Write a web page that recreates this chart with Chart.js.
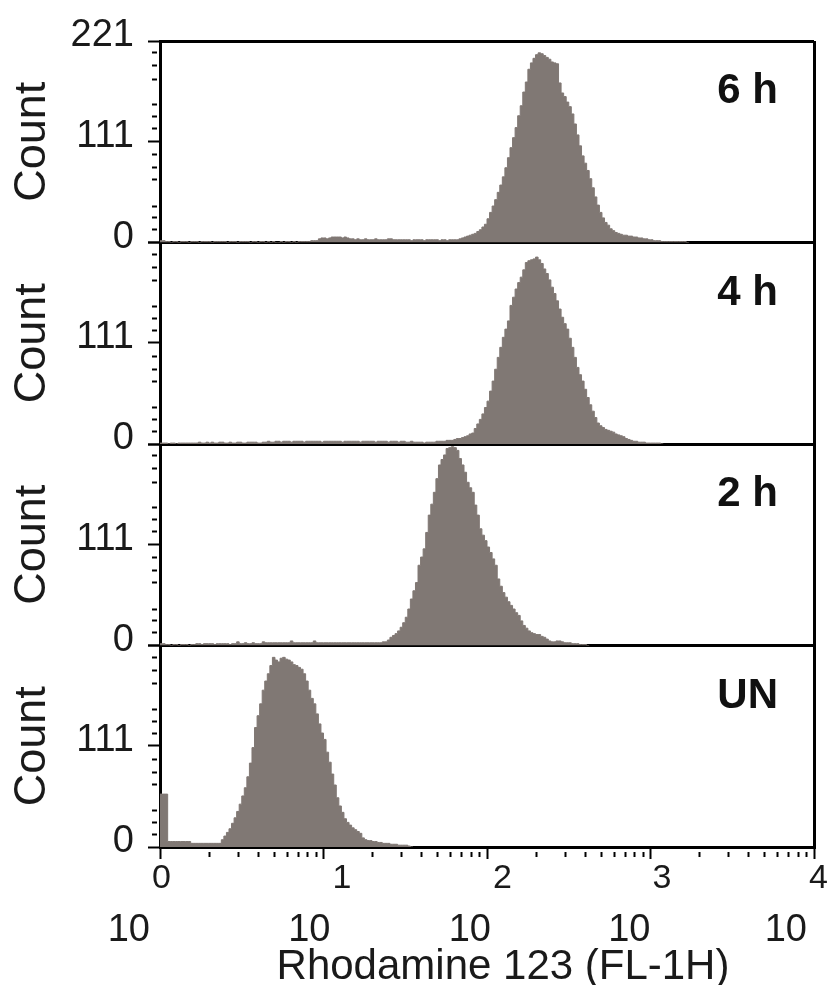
<!DOCTYPE html>
<html>
<head>
<meta charset="utf-8">
<script src="https://cdn.jsdelivr.net/npm/chart.js@4.4.0/dist/chart.umd.min.js"></script>
<style>
  html, body { margin: 0; padding: 0; background: #fff; }
</style>
</head>
<body>
<canvas id="histo" width="832" height="985"></canvas>
<script>
// Rhodamine 123 histograms, 256 log channels over 4 decades (64 per decade)
const panelIds = ['y6', 'y4', 'y2', 'yUN'];
const panelLabels = ['6 h', '4 h', '2 h', 'UN'];
const countTicks = [0, 14, 27, 40, 69, 82, 96, 111, 125, 138, 151, 179, 194, 208, 221];
const countLabels = [0, 111, 221];
const decades = [1, 10, 100, 1000, 10000];
const decadeLabels = ['0', '1', '2', '3', '4'];
const xTitle = 'Rhodamine 123 (FL-1H)';
const channelsPerDecade = 64;

const counts6h = [
  2, 2, 1, 1,
  0, 1, 1, 0, 1, 1, 1, 0, 1, 1, 1, 0, 1, 1, 1, 1, 0, 1, 1, 1,
  1, 1, 0, 1, 1, 1, 0, 1, 1, 1, 1, 0, 1, 1, 0, 1, 1, 0, 1,
  0, 1, 0, 0, 1, 0, 1, 1, 0, 1, 0, 1, 1, 1, 1, 1, 2, 2, 2,
  4, 5, 5, 4, 5, 6, 6, 6, 6, 5, 6, 5, 4, 4,
  3, 4, 3, 3, 4, 3, 3, 3, 4, 3, 3, 3, 3, 4, 4, 3, 3, 3, 3, 3,
  3, 3, 2, 3, 3, 3, 3, 2, 3, 3, 3, 3, 3, 2, 3, 3, 2, 3, 3, 3, 3,
  4, 5, 6, 7, 8, 9, 10, 12, 14, 17,
  20, 26, 33, 40, 47, 55, 63, 72, 82, 93,
  104, 115, 126, 139, 150, 165, 176, 190, 197, 202,
  206, 208, 207, 205, 203, 201, 198, 197, 196, 175,
  164, 160, 154, 149, 141, 130, 118, 106, 95, 87,
  79, 70, 60, 50, 41, 33, 27, 22, 19, 15,
  13, 11, 10, 9, 8, 8, 7, 7, 6, 6,
  5, 5, 4, 4, 3, 3, 2, 2, 2, 1,
  1, 1, 1, 1, 1, 1, 1, 1, 1, 0
];

const counts4h = [
  1, 1, 1, 0, 1, 1, 0, 1, 1, 1, 1, 1, 1, 1,
  1, 2, 1, 1, 2, 1, 2, 1, 1, 2, 2, 1, 1, 2, 1, 1, 2, 2, 1, 1, 2, 2, 2, 2, 1, 1,
  2, 2, 3, 2, 2, 3, 3, 2, 3, 3, 3, 2, 3, 3, 3, 3, 2, 3, 3, 3,
  3, 3, 3, 2, 3, 3, 3, 3, 3, 3, 3, 2, 3, 3, 3, 3, 3, 3, 2, 3,
  3, 3, 3, 3, 2, 3, 3, 3, 3, 2, 3, 3, 3, 2, 3, 3, 2, 2, 3, 2,
  2, 2, 2, 1, 2, 2, 2, 2, 3, 3, 3, 3, 4, 4,
  4, 5, 6, 6, 7, 8, 9, 11, 12, 17,
  22, 27, 33, 40, 47, 58, 69, 82, 95, 106,
  117, 126, 135, 152, 161, 170, 177, 183, 191, 199,
  201, 202, 203, 205, 202, 198, 192, 187, 180, 172,
  165, 157, 148, 139, 132, 126, 116, 106, 95, 84,
  76, 69, 60, 51, 43, 36, 29, 23, 20, 18,
  16, 15, 14, 13, 11, 10, 9, 8, 6, 5,
  4, 3, 3, 2, 2, 2, 1, 1, 1, 1, 1, 1, 0
];

const counts2h = [
  2, 2, 1,
  1, 0, 1, 1, 0, 1, 1, 1, 0, 1, 1,
  2, 2, 1, 2, 2, 2, 2, 1, 2, 2, 2, 2, 2, 1, 2, 2,
  4,
  2, 2, 3, 2, 2, 3, 2, 2, 2,
  4, 3, 3, 3, 3, 3, 3, 3, 3, 3, 3, 5, 3, 3, 3, 3, 3, 3, 3, 3,
  5, 3, 3, 3, 3, 3, 3, 3, 3, 3, 3, 3, 3, 3, 3, 3, 3, 3, 3, 3,
  3, 3, 3, 3, 3, 3, 3, 4,
  4, 6, 9, 11, 13, 16, 20, 25, 31, 40,
  51, 60, 69, 88, 97, 106, 124, 143, 155, 168,
  183, 198, 204, 209, 216, 217, 218, 217, 214, 205,
  198, 190, 179, 173, 168, 154, 143, 128, 121, 115,
  108, 102, 95, 88, 73, 65, 58, 53, 48, 44,
  40, 36, 33, 27, 22, 19, 16, 14, 13, 12,
  12, 10, 9, 7, 5, 4, 4, 5, 5, 4,
  3, 3, 3, 2, 2, 2, 1, 1, 1, 0
];

const countsUN = [
  58, 58, 58,
  6, 6, 6, 6, 6, 6, 6, 6, 6,
  4, 4, 4, 4, 4, 4, 4, 4, 4, 4, 4, 4,
  8, 12, 16, 20, 26, 32, 39, 47, 56, 65,
  77, 92, 109, 131, 144, 157, 172, 182, 190, 199,
  208, 205, 203, 207, 208, 206, 205, 203, 200, 199,
  197, 195, 190, 182, 172, 163, 157, 146, 135, 125,
  118, 104, 93, 80, 68, 54, 45, 38, 31, 27,
  24, 21, 19, 17, 15, 10, 8, 7, 7, 6,
  6, 5, 5, 4, 4, 4, 3, 3, 3, 2, 2, 2, 2, 1, 0
];

const panelCounts = [counts6h, counts4h, counts2h, countsUN];

// x tick positions: every integer multiple inside each decade
const xTicks = [];
decades.slice(0, 4).forEach(d => {
  for (let m = 1; m <= 9; m++) xTicks.push(m * d);
});
xTicks.push(10000);

// channel c starts at 10^(c/64); stepped 'before' keeps each bin flat up to the next edge
function toPoints(counts) {
  const pts = counts.map((v, c) => ({ x: Math.pow(10, c / channelsPerDecade), y: v }));
  pts.push({ x: Math.pow(10, counts.length / channelsPerDecade), y: 0 });
  return pts;
}

const FONT = '"Liberation Sans", Arial, sans-serif';
Chart.defaults.font.family = FONT;
Chart.defaults.color = '#1a1a1a';

const histFill = 'rgb(128,120,116)';
// where the "10" of each decade label ends, relative to its tick
const decadeShift = [-10, 7, 4, 0, -7];

function countAxis(weight, isTop) {
  return {
    type: 'linear',
    position: 'left',
    stack: 'panels',
    stackWeight: 1,
    weight: weight,
    z: 1,
    min: 0,
    max: 221,
    afterBuildTicks: s => { s.ticks = countTicks.map(v => ({ value: v })); },
    afterFit: s => { s.width = 160; s.paddingTop = 0; s.paddingBottom = 0; },
    border: { display: true, color: '#000', width: 3 },
    grid: {
      drawOnChartArea: true,
      color: c => (c.tick && (c.tick.value === 0 || (isTop && c.tick.value === 221))) ? '#000' : 'rgba(0,0,0,0)',
      lineWidth: 3,
      tickLength: 12,
      tickColor: '#000',
      tickWidth: 2,
      tickBorderDash: c => (c.tick && countLabels.includes(c.tick.value)) ? [] : [5, 30],
      tickBorderDashOffset: c => (c.tick && countLabels.includes(c.tick.value)) ? 0 : 31
    },
    ticks: {
      autoSkip: false,
      padding: 14,
      labelOffset: -5,
      font: { size: 38 },
      color: '#1a1a1a',
      callback: v => (countLabels.includes(v) && (v !== 221 || isTop)) ? String(v) : ''
    },
    title: {
      display: true,
      text: 'Count',
      font: { size: 45 },
      color: '#1a1a1a',
      padding: { top: 6, bottom: 0 }
    }
  };
}

// decade labels with raised exponents, axis title, and the time-point labels
const extraText = {
  id: 'extraText',
  afterDraw(chart) {
    const { ctx, chartArea } = chart;
    const xs = chart.scales.x;
    ctx.save();
    ctx.fillStyle = '#1a1a1a';
    ctx.textBaseline = 'alphabetic';
    decades.forEach((v, i) => {
      const px = xs.getPixelForValue(v) + decadeShift[i];
      ctx.font = '38px ' + FONT;
      ctx.textAlign = 'right';
      ctx.fillText('10', px, xs.top + 94);
      ctx.font = '34px ' + FONT;
      ctx.textAlign = 'left';
      ctx.fillText(decadeLabels[i], px + 2, xs.top + 41);
    });
    ctx.font = '42px ' + FONT;
    ctx.textAlign = 'center';
    ctx.fillText(xTitle, (chartArea.left + chartArea.right) / 2 + 16, xs.top + 132);

    ctx.font = 'bold 42px ' + FONT;
    ctx.fillStyle = '#111';
    ctx.textAlign = 'right';
    panelIds.forEach((id, i) => {
      ctx.fillText(panelLabels[i], chartArea.right - 36, chart.scales[id].top + 62);
    });
    ctx.restore();
  }
};

const scales = {
  x: {
    type: 'logarithmic',
    position: 'bottom',
    min: 1,
    max: 10000,
    z: 1,
    afterBuildTicks: s => { s.ticks = xTicks.map(v => ({ value: v })); },
    afterFit: s => { s.height = 138; s.paddingLeft = 0; s.paddingRight = 0; },
    border: { display: true, color: '#000', width: 3 },
    grid: {
      drawOnChartArea: true,
      color: c => (c.tick && c.tick.value === 10000) ? '#000' : 'rgba(0,0,0,0)',
      lineWidth: 3,
      tickLength: 12,
      tickColor: '#000',
      tickWidth: 2,
      tickBorderDash: c => (c.tick && decades.includes(c.tick.value)) ? [] : [5, 30],
      tickBorderDashOffset: c => (c.tick && decades.includes(c.tick.value)) ? 0 : 32
    },
    ticks: {
      autoSkip: false,
      maxRotation: 0,
      minRotation: 0,
      callback: () => ''
    },
    title: { display: false }
  }
};
// higher weight goes on top of the left stack
scales.yUN = countAxis(1, false);
scales.y2 = countAxis(2, false);
scales.y4 = countAxis(3, false);
scales.y6 = countAxis(4, true);

const datasets = panelIds.map((id, i) => ({
  label: panelLabels[i],
  data: toPoints(panelCounts[i]),
  yAxisID: id,
  stepped: true,
  fill: 'origin',
  backgroundColor: histFill,
  borderColor: histFill,
  borderWidth: 1,
  pointRadius: 0
}));

new Chart(document.getElementById('histo').getContext('2d'), {
  type: 'line',
  data: { datasets: datasets },
  options: {
    responsive: false,
    animation: false,
    layout: { padding: { top: 41, right: 18, left: 0, bottom: 0 } },
    plugins: { legend: { display: false }, tooltip: { enabled: false } },
    scales: scales
  },
  plugins: [extraText]
});
</script>
</body>
</html>
